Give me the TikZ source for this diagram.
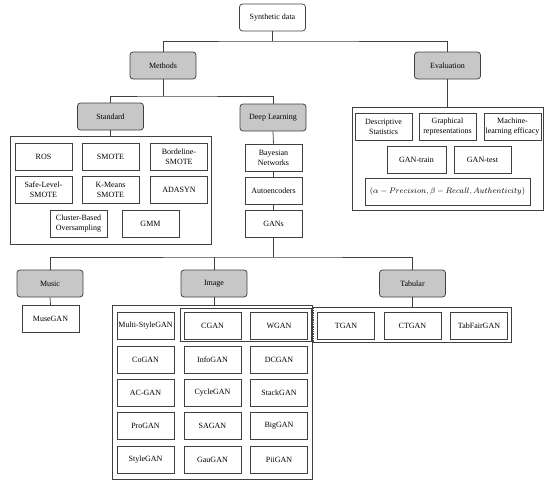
\documentclass[tikz,border=0pt]{standalone}
\usepackage{fontspec}
\setmainfont{Liberation Serif}
\begin{document}
\begin{tikzpicture}[x=1pt,y=-1pt,
  every node/.style={font=\fontsize{8}{10}\selectfont, text=black, align=center, inner sep=1pt},
  cat/.style={draw=black!75, line width=0.75pt, rounded corners=3pt, minimum width=66, minimum height=27},
  catg/.style={cat, fill=black!22},
  leaf/.style={draw=black!75, line width=0.75pt, minimum width=57, minimum height=27},
  cont/.style={draw=black!75, line width=0.75pt},
  conn/.style={draw=black!75, line width=0.75pt}]
\useasboundingbox (0,0) rectangle (550,485);

% top level
\node[cat] (syn) at (272.5,17.5) {Synthetic data};
\node[catg] (meth) at (163,65.5) {Methods};
\node[catg] (eval) at (447.5,65.5) {Evaluation};
\node[catg] (std) at (110.5,116.5) {Standard};
\node[catg] (dl) at (273,117.5) {Deep Learning};

% standard container and leaves
\node[cont, minimum width=201, minimum height=108] (stdbox) at (110.5,190) {};
\node[leaf] (ros) at (43.5,156.5) {ROS};
\node[leaf] (smote) at (110.5,156.5) {SMOTE};
\node[leaf] (bord) at (179,156.5) {Bordeline-\\SMOTE};
\node[leaf] (safe) at (43.5,190) {Safe-Level-\\SMOTE};
\node[leaf] (kmeans) at (110.5,190) {K-Means\\SMOTE};
\node[leaf] (adasyn) at (179,190) {ADASYN};
\node[leaf] (cluster) at (78.5,223.5) {Cluster-Based\\Oversampling};
\node[leaf] (gmm) at (150.5,223.5) {GMM};

% deep learning column
\node[leaf] (bayes) at (273.5,157.5) {Bayesian\\Networks};
\node[leaf] (auto) at (273.5,190.5) {Autoencoders};
\node[leaf] (gans) at (273.5,224) {GANs};

% evaluation container
\node[cont, minimum width=191, minimum height=103] (evalbox) at (447.5,158.5) {};
\node[leaf] (desc) at (383.5,126.5) {Descriptive\\Statistics};
\node[leaf] (graph) at (447.5,126.5) {Graphical\\representations};
\node[leaf] (mach) at (512.5,126.5) {Machine-\\learning efficacy};
\node[leaf, minimum width=59] (gtrain) at (416.5,159.5) {GAN-train};
\node[leaf] (gtest) at (482.5,159.5) {GAN-test};
\node[leaf, minimum width=165] (alpha) at (447.5,191.5) {$(\alpha-Precision,\beta-Recall,Authenticity)$};

% GAN application categories
\node[catg] (music) at (50,283.5) {Music};
\node[catg] (image) at (214,283.5) {Image};
\node[catg] (tab) at (412.5,283.5) {Tabular};

\node[leaf] (muse) at (50.5,319) {MuseGAN};

% image container
\node[cont, minimum width=200, minimum height=173.5] (imgbox) at (212,392.25) {};
\node[cont, minimum width=131, minimum height=33] (grp) at (245.5,324.5) {};
\node[leaf] (multi) at (145.5,325.5) {Multi-StyleGAN};
\node[leaf] (cgan) at (212.5,325.5) {CGAN};
\node[leaf] (wgan) at (279,325.5) {WGAN};
\node[leaf] (cogan) at (145.5,359.5) {CoGAN};
\node[leaf] (infogan) at (212.5,359.5) {InfoGAN};
\node[leaf] (dcgan) at (279,359.5) {DCGAN};
\node[leaf] (acgan) at (145.5,392.5) {AC-GAN};
\node[leaf] (cycle) at (212.5,392.5) {CycleGAN};
\node[leaf] (stack) at (279,392.5) {StackGAN};
\node[leaf] (pro) at (145.5,426) {ProGAN};
\node[leaf] (sagan) at (212.5,426) {SAGAN};
\node[leaf] (big) at (279,426) {BigGAN};
\node[leaf] (style) at (145.5,459.5) {StyleGAN};
\node[leaf] (gau) at (212.5,459.5) {GauGAN};
\node[leaf] (pii) at (279,459.5) {PiiGAN};

% tabular container (dotted left side)
\node[minimum width=197.5, minimum height=34, inner sep=0pt] (tabbox) at (412.25,325) {};
\draw[conn] (tabbox.north west) -- (tabbox.north east) -- (tabbox.south east) -- (tabbox.south west);
\draw[conn, densely dotted] (tabbox.south west) -- (tabbox.north west);
\node[leaf] (tgan) at (346,325.5) {TGAN};
\node[leaf] (ctgan) at (412.5,325.5) {CTGAN};
\node[leaf] (tabfair) at (479,325.5) {TabFairGAN};

% connectors
\coordinate (j1) at (272.5,41);
\coordinate (j2) at (163,96);
\coordinate (j3) at (273.5,257);
\draw[conn] (syn.south) -- (j1);
\draw[conn] (meth.north) |- (j1) -| (eval.north);
\draw[conn] (meth.south) -- (j2);
\draw[conn] (std.north) |- (j2) -| (dl.north);
\draw[conn] (eval.south) -- (evalbox.north);
\draw[conn] (std.south) -- (stdbox.north);
\draw[conn] (dl.south) -- (bayes.north);
\draw[conn] (bayes.south) -- (auto.north);
\draw[conn] (auto.south) -- (gans.north);
\draw[conn] (gans.south) -- (j3);
\draw[conn] (music.north) |- (j3) -| (tab.north);
\draw[conn] (image.north) -- (image.north |- j3);
\draw[conn] (music.south) -- (muse.north);
\draw[conn] (image.south) -- (imgbox.north -| image.south);
\draw[conn] (tab.south) -- (tabbox.north -| tab.south);
\end{tikzpicture}
\end{document}
